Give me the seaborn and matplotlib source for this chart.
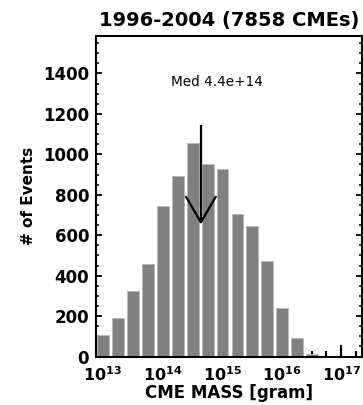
import numpy as np
import pandas as pd
import matplotlib
matplotlib.use("Agg")
import matplotlib.pyplot as plt
from matplotlib.ticker import FixedLocator, FixedFormatter, MultipleLocator
import seaborn as sns

# ---- data ----
log_mass_centers = [13.0, 13.25, 13.5, 13.75, 14.0, 14.25, 14.5, 14.75,
                    15.0, 15.25, 15.5, 15.75, 16.0, 16.25, 16.5]
counts = [107, 190, 324, 457, 743, 892, 1056, 954,
          925, 706, 643, 472, 239, 90, 14]
median_mass = 4.4e14
title = "1996-2004 (7858 CMEs)"
xlabel = "CME MASS [gram]"
ylabel = "# of Events"
median_label = "Med 4.4e+14"
xtick_exps = [13, 14, 15, 16, 17]
ytick_vals = [0, 200, 400, 600, 800, 1000, 1200, 1400]

df = pd.DataFrame({"mass": [10 ** c for c in log_mass_centers], "count": counts})

sns.set_style("ticks")
plt.rcParams["font.family"] = ["DejaVu Sans"]
plt.rcParams["mathtext.fontset"] = "dejavusans"
for k in ["text.color", "axes.labelcolor", "xtick.color", "ytick.color",
          "axes.edgecolor"]:
    plt.rcParams[k] = "black"

W, H = 363, 405
fig = plt.figure(figsize=(W / 100, H / 100), dpi=100)
ax = fig.add_axes([96 / W, 1 - 356.5 / H, (362 - 96) / W, (356.5 - 36) / H])

sns.histplot(data=df, x="mass", weights="count", log_scale=True,
             binwidth=0.25, binrange=(12.875, 16.625), shrink=0.8,
             color="#808080", edgecolor="#b8b8b8", linewidth=0.6,
             alpha=1.0, ax=ax)

ax.set_xlim(10 ** 12.883, 10 ** 17.347)
ax.set_ylim(0, 1585)

# median arrow
lm = np.log10(median_mass)
ax.plot([median_mass, median_mass], [1144, 664], color="black", lw=1.6,
        solid_capstyle="butt")
ax.plot([10 ** (lm - 0.25), median_mass, 10 ** (lm + 0.25)], [790, 664, 790],
        color="black", lw=1.6)
ax.text(10 ** 14.91, 1357, median_label, ha="center", va="center",
        fontsize=9.8, color="black")

# axes styling
for side in ["left", "bottom", "top", "right"]:
    ax.spines[side].set_visible(True)
    ax.spines[side].set_linewidth(1.5)
    ax.spines[side].set_color("black")

ax.set_xticks([10.0 ** e for e in xtick_exps])
ax.xaxis.set_major_formatter(FixedFormatter([r"$\mathbf{10^{%d}}$" % e for e in xtick_exps]))
minor = [10 ** (e + k / 4) for e in range(12, 18) for k in (1, 2, 3)]
ax.xaxis.set_minor_locator(FixedLocator(minor))
ax.xaxis.set_minor_formatter(FixedFormatter([""] * len(minor)))

ax.set_yticks(ytick_vals)
ax.yaxis.set_minor_locator(MultipleLocator(50))

ax.tick_params(axis="x", which="major", direction="in", length=8.5, width=1.5,
               labelsize=11.5, pad=6, top=False, bottom=True)
ax.tick_params(axis="x", which="minor", direction="in", length=4.3, width=1.5,
               top=False, bottom=True)
ax.tick_params(axis="y", which="major", direction="in", length=4.5, width=1.3,
               labelsize=12, pad=5, left=True, right=True)
ax.tick_params(axis="y", which="minor", direction="in", length=2.2, width=1.1,
               left=True, right=True)
for lab in ax.get_yticklabels():
    lab.set_fontweight("bold")

ax.set_xlabel(xlabel, fontsize=12, fontweight="bold", labelpad=0)
ax.set_ylabel(ylabel, fontsize=11, fontweight="bold", labelpad=5)
ax.set_title(title, fontsize=14, fontweight="bold", pad=7)

fig.savefig("out.png", dpi=100)
